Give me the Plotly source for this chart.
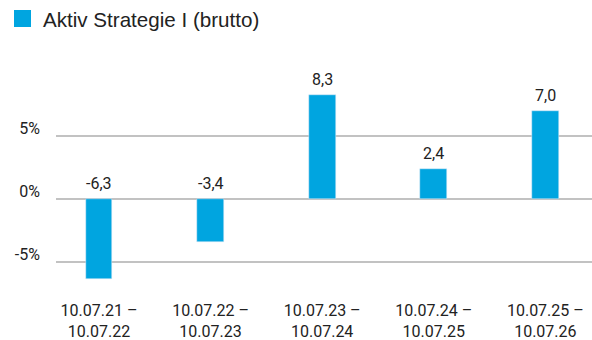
import plotly.graph_objects as go

# Yearly returns per rolling period
periods = ["10.07.21 –<br>10.07.22", "10.07.22 –<br>10.07.23", "10.07.23 –<br>10.07.24",
           "10.07.24 –<br>10.07.25", "10.07.25 –<br>10.07.26"]
returns = [-6.3, -3.4, 8.3, 2.4, 7.0]
series_name = "Aktiv Strategie I (brutto)"
ytick_vals = [-5, 0, 5]
ytick_text = ["-5%", "0%", "5%"]

BAR = "#00a5e0"
GRID = "#c2c2c2"
TXT = "#222222"
FONT = "Roboto"

fig = go.Figure()
fig.add_trace(go.Bar(
    x=list(range(len(periods))), y=returns, marker_color=BAR, width=0.24,
    name=series_name, showlegend=False, hoverinfo="skip",
))

# value labels: above the bar for gains, above the zero line for losses
for i, v in enumerate(returns):
    fig.add_annotation(
        x=i, y=max(v, 0), text=f"{v:.1f}".replace(".", ","), showarrow=False,
        yanchor="bottom", yshift=4, font=dict(family=FONT, size=16, color=TXT),
    )

# legend swatch and label
fig.add_shape(type="rect", xref="paper", yref="paper", xsizemode="pixel", ysizemode="pixel",
              xanchor=0, yanchor=1, x0=-42, x1=-25, y0=60, y1=43,
              fillcolor=BAR, line_width=0)
fig.add_annotation(xref="paper", yref="paper", x=0, y=1, xanchor="left", yanchor="middle",
                   xshift=-15, yshift=51, text=series_name, showarrow=False,
                   font=dict(family="Liberation Sans", size=20.6, color=TXT))

fig.update_layout(
    width=592, height=340, margin=dict(l=56, r=0, t=70, b=55),
    paper_bgcolor="white", plot_bgcolor="white", bargap=0,
    font=dict(family=FONT, size=16, color=TXT),
)
fig.update_xaxes(
    range=[-0.385, 4.418], tickvals=list(range(len(periods))), ticktext=periods,
    showgrid=False, zeroline=False, showline=False, ticks="",
    ticklabelstandoff=14,
    tickfont=dict(family=FONT, size=16, color=TXT), fixedrange=True,
)
fig.update_yaxes(
    range=[-6.8, 10.26], tickvals=ytick_vals, ticktext=ytick_text,
    showgrid=True, gridcolor=GRID, gridwidth=2,
    zeroline=True, zerolinecolor=GRID, zerolinewidth=2,
    ticks="", ticklabelstandoff=15, ticklabelshift=-8,
    tickfont=dict(family=FONT, size=16, color=TXT),
    fixedrange=True,
)

fig.write_html("out.html")
